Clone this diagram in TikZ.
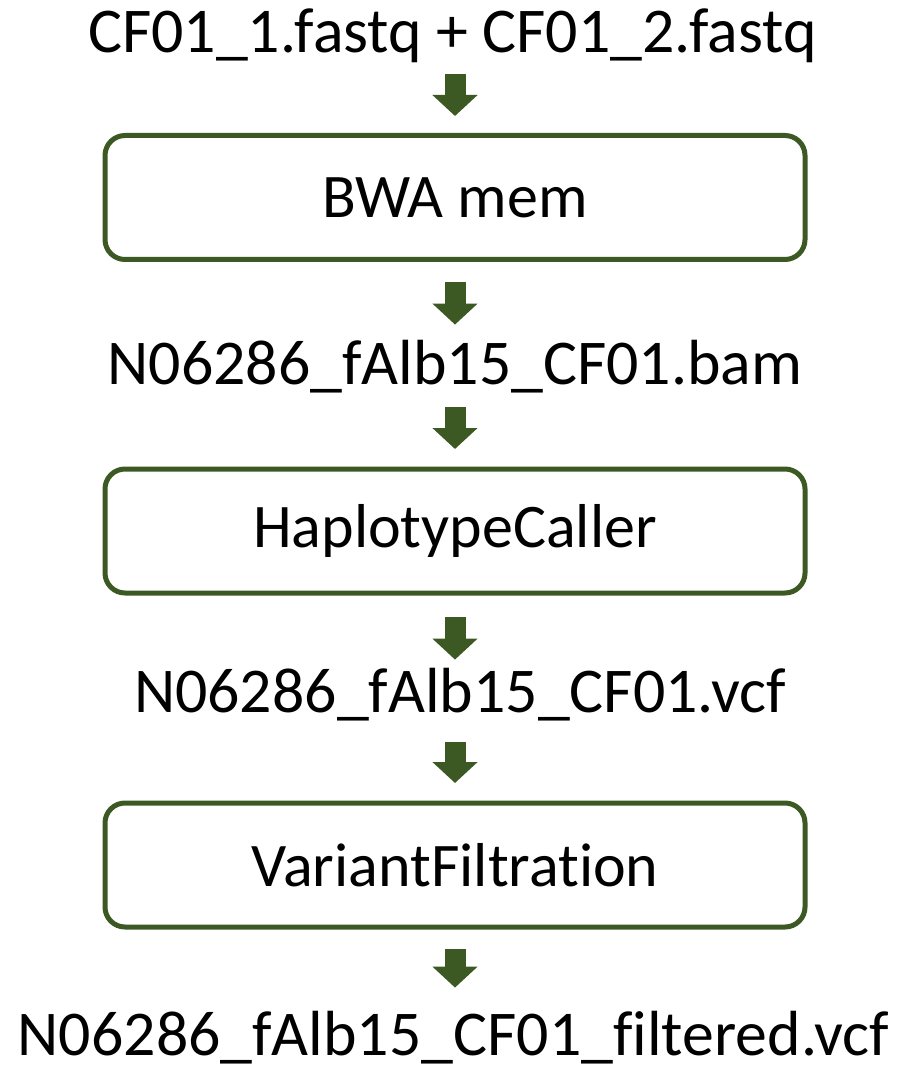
\documentclass[tikz,border=0pt]{standalone}
\usepackage{fontspec}
\setmainfont{Carlito}[Ligatures={NoCommon,NoRare}]
\usetikzlibrary{arrows.meta}

\definecolor{pipegreen}{RGB}{61,89,35}

\begin{document}
\begin{tikzpicture}[x=0.5pt, y=-0.5pt,
	every node/.style={inner sep=0pt},
	file/.style={anchor=base, text height=20pt, text depth=0pt, font=\fontsize{31.9}{38}\selectfont},
	tool/.style={draw=pipegreen, line width=2.5pt, rounded corners=10pt, outer sep=0pt,
		minimum width=350pt, minimum height=62pt, font=\fontsize{31}{37}\selectfont},
	flow/.style={->, pipegreen, line width=10.5pt},
	>={Triangle[width=22pt,length=10.5pt]}]
	\useasboundingbox (0,0) rectangle (897,1069);

	\node[file] (reads) at (452.5,53) {CF01\_1.fastq + CF01\_2.fastq};
	\node[tool] (bwa) at (455,197.5) {BWA mem};
	\node[file] (bam) at (455,384) {N06286\_fAlb15\_CF01.bam};
	\node[tool] (hc) at (455,531) {HaplotypeCaller};
	\node[file] (vcf) at (460,712) {N06286\_fAlb15\_CF01.vcf};
	\node[tool] (vf) at (455,865) {VariantFiltration};
	\node[file] (filt) at (453.5,1055) {N06286\_fAlb15\_CF01\_filtered.vcf};

	% block arrows between the steps
	\draw[flow, shorten <=10.5pt, shorten >=9.75pt] (reads.south -| bwa) -- (bwa);
	\draw[flow, shorten <=11.25pt, shorten >=9.5pt] (bwa) -- (bam.north -| bwa);
	\draw[flow, shorten <=11.5pt, shorten >=10pt] (bam.south -| hc) -- (hc);
	\draw[flow, shorten <=12pt, shorten >=6pt] (hc) -- (vcf.north -| hc);
	\draw[flow, shorten <=15pt, shorten >=10pt] (vcf.south -| vf) -- (vf);
	\draw[flow, shorten <=11pt, shorten >=13.5pt] (vf) -- (filt.north -| vf);
\end{tikzpicture}
\end{document}
